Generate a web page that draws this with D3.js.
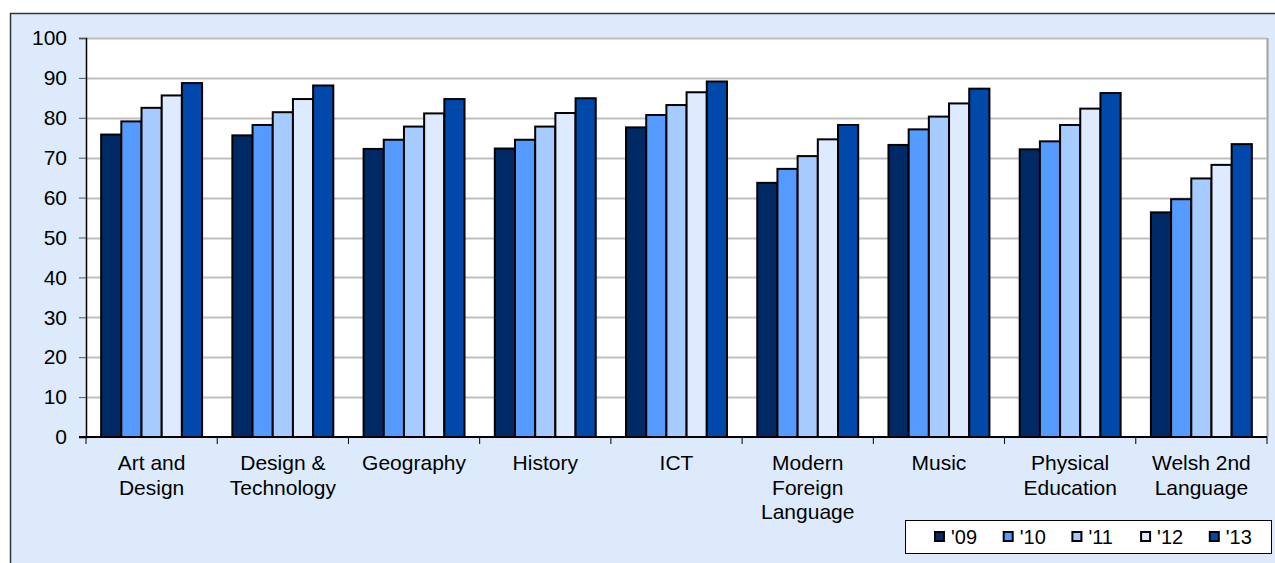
<!DOCTYPE html>
<html>
<head>
<meta charset="utf-8">
<script src="https://cdn.jsdelivr.net/npm/d3@7"></script>
<style>
  body { margin: 0; background: #fff; }
  text { font-family: "Liberation Sans", Arial, sans-serif; fill: #000; }
</style>
</head>
<body>
<script>
var categories = [
  ["Art and", "Design"],
  ["Design &", "Technology"],
  ["Geography"],
  ["History"],
  ["ICT"],
  ["Modern", "Foreign", "Language"],
  ["Music"],
  ["Physical", "Education"],
  ["Welsh 2nd", "Language"]
];
var years = ["'09", "'10", "'11", "'12", "'13"];
var colors = ["#002a66", "#559bff", "#a6cbff", "#ddeaff", "#0048aa"];
var v09 = [75.8, 75.6, 72.2, 72.3, 77.6, 63.7, 73.2, 72.1, 56.3];
var v10 = [79.1, 78.2, 74.5, 74.5, 80.7, 67.2, 77.1, 74.1, 59.6];
var v11 = [82.5, 81.4, 77.8, 77.8, 83.2, 70.4, 80.3, 78.2, 64.8];
var v12 = [85.6, 84.7, 81.1, 81.2, 86.4, 74.6, 83.6, 82.3, 68.2];
var v13 = [88.7, 88.1, 84.7, 84.9, 89.1, 78.2, 87.3, 86.2, 73.4];
var series = [v09, v10, v11, v12, v13];
var yTicks = [0, 10, 20, 30, 40, 50, 60, 70, 80, 90, 100];

var W = 1275, H = 563;
var svg = d3.select("body").append("svg").attr("width", W).attr("height", H);

// chart area
svg.append("rect")
  .attr("x", 10.5).attr("y", 13.5)
  .attr("width", W + 10).attr("height", H + 10)
  .attr("fill", "#dceafc").attr("stroke", "#333").attr("stroke-width", 1.5);

var pLeft = 86, pRight = 1267, pTop = 38, pBottom = 437;

var x0 = d3.scaleBand().domain(d3.range(categories.length)).range([pLeft, pRight]).paddingInner(0).paddingOuter(0);
var x1 = d3.scaleBand().domain(d3.range(years.length)).range([0, x0.bandwidth()]).paddingInner(0).paddingOuter(0.75);
var y = d3.scaleLinear().domain([0, 100]).range([pBottom, pTop]);

// plot area
svg.append("rect")
  .attr("x", pLeft).attr("y", pTop)
  .attr("width", pRight - pLeft).attr("height", pBottom - pTop)
  .attr("fill", "#fff");
svg.append("line")
  .attr("x1", pRight + 0.5).attr("x2", pRight + 0.5)
  .attr("y1", pTop).attr("y2", pBottom)
  .attr("stroke", "#a0a0a0").attr("stroke-width", 2);

// gridlines
svg.append("g").selectAll("line").data(yTicks.slice(1)).enter().append("line")
  .attr("x1", pLeft).attr("x2", pRight)
  .attr("y1", function (d) { return Math.round(y(d)) + 0.5; })
  .attr("y2", function (d) { return Math.round(y(d)) + 0.5; })
  .attr("stroke", "#c0c0c0").attr("stroke-width", 2);

// bars
var groups = svg.append("g").selectAll("g").data(categories).enter().append("g")
  .attr("transform", function (d, i) { return "translate(" + x0(i) + ",0)"; });
groups.selectAll("rect")
  .data(function (d, i) { return series.map(function (s, k) { return { k: k, v: s[i] }; }); })
  .enter().append("rect")
  .attr("x", function (d) { return x1(d.k); })
  .attr("width", x1.bandwidth())
  .attr("y", function (d) { return y(d.v); })
  .attr("height", function (d) { return y(0) - y(d.v); })
  .attr("fill", function (d) { return colors[d.k]; })
  .attr("stroke", "#000").attr("stroke-width", 2);

// y axis
var yAxis = svg.append("g").attr("transform", "translate(" + pLeft + ",0)")
  .call(d3.axisLeft(y).tickValues(yTicks).tickSize(7).tickPadding(12));
yAxis.select(".domain").attr("stroke", "#000").attr("stroke-width", 1.5);
yAxis.selectAll(".tick line").attr("stroke", "#555");
yAxis.selectAll(".tick text").attr("font-size", 21).attr("font-family", "Liberation Sans, Arial, sans-serif");

// x axis
var xAxis = svg.append("g").attr("transform", "translate(0," + pBottom + ")");
xAxis.append("line")
  .attr("x1", pLeft - 7).attr("x2", pRight)
  .attr("stroke", "#000").attr("stroke-width", 2);
xAxis.selectAll("line.tk").data(d3.range(categories.length + 1)).enter().append("line")
  .attr("class", "tk")
  .attr("x1", function (i) { return pLeft + i * x0.bandwidth(); })
  .attr("x2", function (i) { return pLeft + i * x0.bandwidth(); })
  .attr("y1", 0).attr("y2", 7)
  .attr("stroke", "#000").attr("stroke-width", 1);
xAxis.selectAll("text").data(categories).enter().append("text")
  .attr("text-anchor", "middle")
  .attr("font-size", 21)
  .attr("x", function (d, i) { return x0(i) + x0.bandwidth() / 2; })
  .attr("y", 33)
  .selectAll("tspan").data(function (d) { return d; }).enter().append("tspan")
  .attr("x", function () { return d3.select(this.parentNode).attr("x"); })
  .attr("dy", function (d, i) { return i === 0 ? 0 : 24.5; })
  .text(function (d) { return d; });

// legend
var lg = svg.append("g");
lg.append("rect")
  .attr("x", 905.5).attr("y", 520.5).attr("width", 366).attr("height", 33)
  .attr("fill", "#fff").attr("stroke", "#000").attr("stroke-width", 1);
var items = lg.selectAll("g").data(years).enter().append("g")
  .attr("transform", function (d, i) { return "translate(" + (935 + i * 68.7) + ",532)"; });
items.append("rect")
  .attr("width", 9).attr("height", 9)
  .attr("fill", function (d, i) { return colors[i]; })
  .attr("stroke", "#000").attr("stroke-width", 2);
items.append("text")
  .attr("x", 16).attr("y", 12)
  .attr("font-size", 20)
  .text(function (d) { return d; });
</script>
</body>
</html>
